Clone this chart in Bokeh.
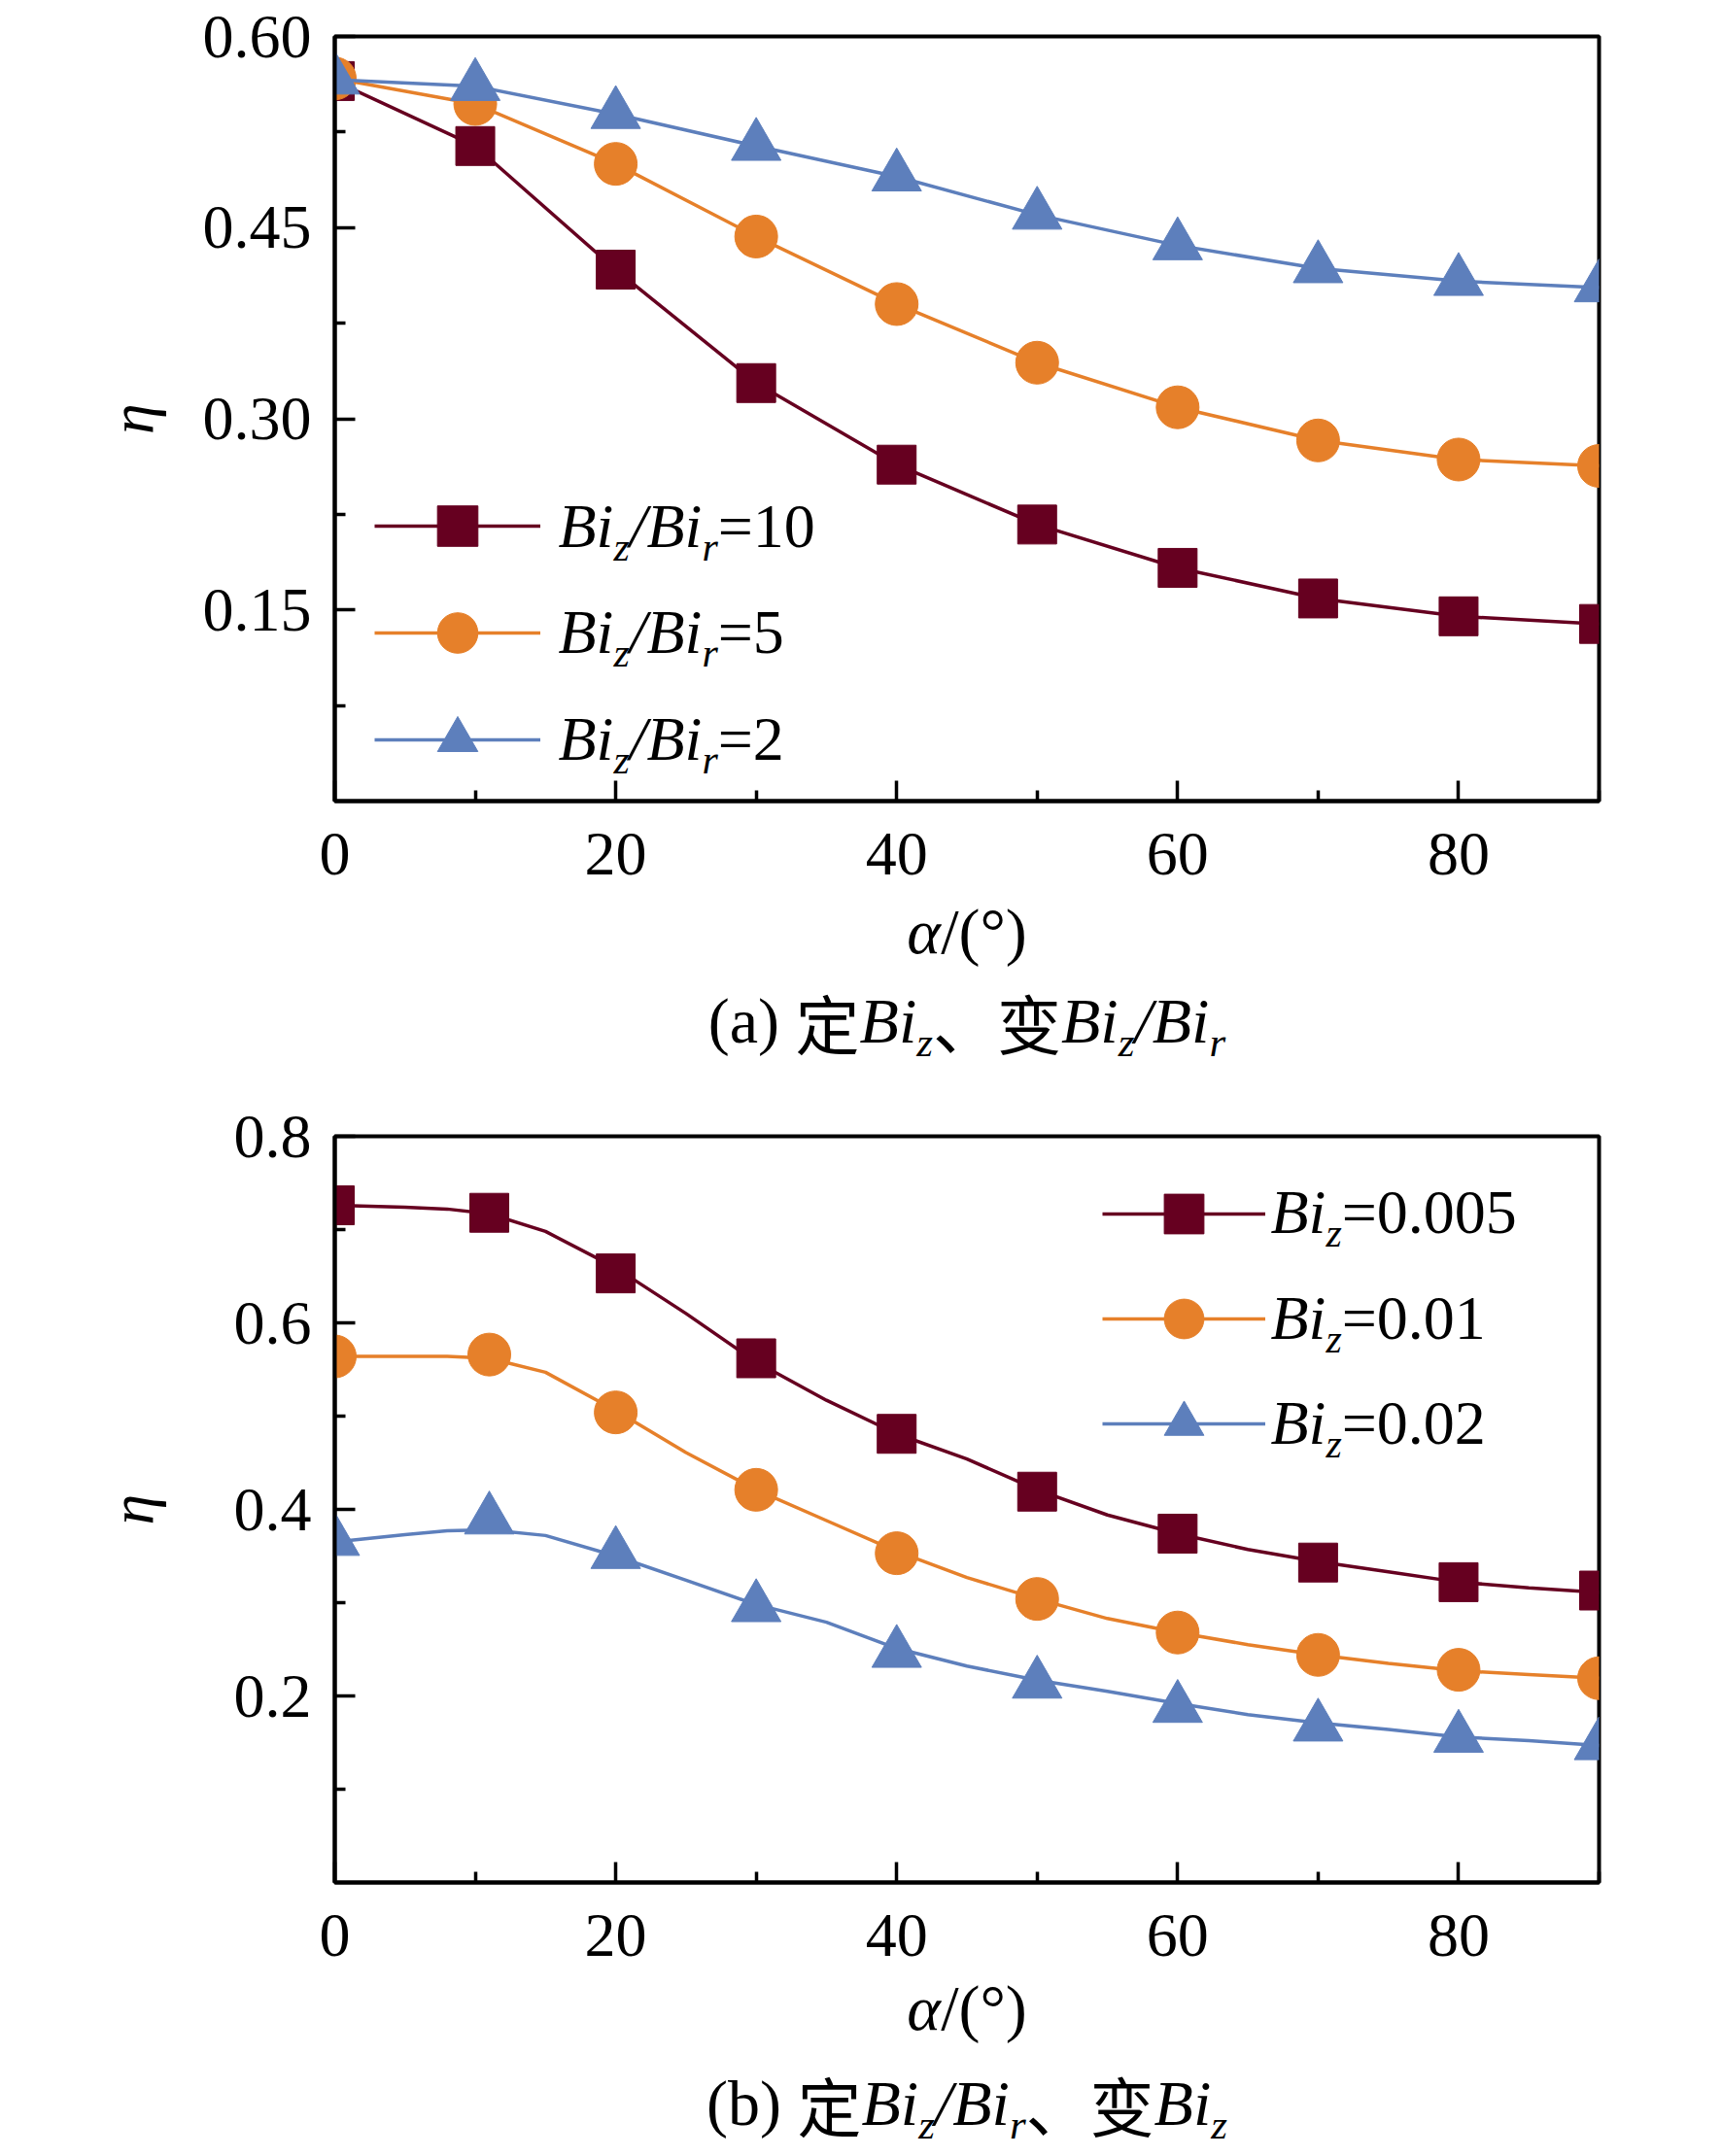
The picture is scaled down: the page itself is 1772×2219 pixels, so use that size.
import math
from bokeh.plotting import figure
from bokeh.models import (Range1d, FixedTicker, NumeralTickFormatter, Legend,
                          LegendItem, Label)
from bokeh.layouts import column
from bokeh.embed import file_html
from bokeh.resources import INLINE
from bokeh.core.properties import value

# ---------------- data ----------------
alpha_a = [0, 10, 20, 30, 40, 50, 60, 70, 80, 90]
eta_a_ratio10 = [0.565, 0.514, 0.417, 0.328, 0.264, 0.217, 0.183, 0.159, 0.145, 0.139]
eta_a_ratio5 = [0.567, 0.547, 0.500, 0.443, 0.390, 0.344, 0.309, 0.283, 0.268, 0.263]
eta_a_ratio2 = [0.566, 0.561, 0.539, 0.514, 0.490, 0.460, 0.436, 0.418, 0.408, 0.403]

alpha_b_marks = [0, 11, 20, 30, 40, 50, 60, 70, 80, 90]
eta_b_005 = [0.726, 0.718, 0.653, 0.562, 0.481, 0.419, 0.374, 0.343, 0.322, 0.313]
eta_b_01 = [0.564, 0.566, 0.504, 0.421, 0.353, 0.304, 0.268, 0.244, 0.228, 0.219]
eta_b_02 = [0.366, 0.389, 0.352, 0.295, 0.246, 0.213, 0.187, 0.167, 0.155, 0.147]

alpha_b_curve = [0, 5, 8, 11, 15, 20, 25, 30, 35, 40, 45, 50, 55, 60, 65, 70, 75, 80, 85, 90]
curve_b_005 = [0.726, 0.724, 0.722, 0.717, 0.698, 0.659, 0.610, 0.558, 0.517, 0.481,
               0.454, 0.421, 0.394, 0.374, 0.357, 0.344, 0.333, 0.322, 0.316, 0.311]
curve_b_01 = [0.564, 0.564, 0.564, 0.562, 0.547, 0.506, 0.461, 0.421, 0.388, 0.355,
              0.327, 0.304, 0.283, 0.268, 0.255, 0.244, 0.235, 0.227, 0.223, 0.219]
curve_b_02 = [0.365, 0.373, 0.377, 0.378, 0.372, 0.350, 0.324, 0.298, 0.279, 0.251,
              0.232, 0.217, 0.205, 0.192, 0.180, 0.171, 0.164, 0.156, 0.152, 0.147]

x_ticks = [0, 20, 40, 60, 80]
x_minor = [10, 30, 50, 70, 90]
y_ticks_a = [0.15, 0.30, 0.45, 0.60]
y_minor_a = [0.075, 0.225, 0.375, 0.525]
y_ticks_b = [0.2, 0.4, 0.6, 0.8]
y_minor_b = [0.1, 0.3, 0.5, 0.7]

C_RED = "#660020"
C_ORA = "#E6802A"
C_BLU = "#5D7FBC"

SERIF = "Liberation Serif"
CJK = "Noto Sans CJK SC"
FS = 64
CAP_FS = 66
SUB_DY = -21
PAGE_W = 1764
LEFT = 344
FRAME_W = 1301

# approximate advance widths (per 1000 em) for Liberation Serif (Times metrics)
W_REG = {**{d: 500 for d in "0123456789"}, ".": 250, "=": 564, "(": 333, ")": 333,
         "/": 278, "°": 400, " ": 250, "a": 444, "b": 500}
W_IT = {"B": 611, "i": 278, "z": 389, "r": 389, "/": 278, "α": 530, "η": 500}


def run_width(text, style, size, font):
    if font == CJK:
        return len(text) * size
    table = W_IT if style == "italic" else W_REG
    return sum(table.get(ch, 500) for ch in text) * size / 1000.0


def rich(p, runs, x, y, align="center"):
    widths = [run_width(t, st, sz, f) for (t, st, sz, f, dy) in runs]
    cur = x - sum(widths) / 2 if align == "center" else x
    for (t, st, sz, f, dy), w in zip(runs, widths):
        p.add_layout(Label(x=cur, y=y + dy, x_units="screen", y_units="screen", text=t,
                           text_font=f, text_font_style=st, text_font_size=f"{sz}px",
                           text_align="left", text_baseline="alphabetic",
                           text_color="black"))
        cur += w


def runs_factory(fs):
    sfs = round(fs * 0.656)
    dy = round(SUB_DY * fs / 64)
    return (lambda t: (t, "italic", fs, SERIF, 0),
            lambda t: (t, "italic", sfs, SERIF, dy),
            lambda t: (t, "normal", fs, SERIF, 0),
            lambda t: (t, "normal", fs, CJK, 0))


it, sub, rg, cj = runs_factory(FS)
cit, csub, crg, ccj = runs_factory(CAP_FS)


def make_fig(height, top, bottom, y_end, y_ticks, y_minor, fmt, eta_standoff):
    p = figure(width=PAGE_W, height=height, output_backend="svg", toolbar_location=None,
               x_range=Range1d(0, 90), y_range=Range1d(0, y_end),
               min_border_left=LEFT, min_border_right=PAGE_W - LEFT - FRAME_W,
               min_border_top=top, min_border_bottom=bottom)
    p.xgrid.visible = False
    p.ygrid.visible = False
    p.outline_line_color = "black"
    p.outline_line_width = 4
    p.outline_line_alpha = 1.0
    p.background_fill_color = "white"
    p.border_fill_color = "white"
    p.xaxis.ticker = FixedTicker(ticks=x_ticks, minor_ticks=x_minor)
    p.yaxis.ticker = FixedTicker(ticks=y_ticks, minor_ticks=y_minor)
    p.yaxis.formatter = NumeralTickFormatter(format=fmt)
    for ax in (p.xaxis[0], p.yaxis[0]):
        ax.axis_line_width = 4
        ax.axis_line_color = "black"
        ax.major_tick_in = 21
        ax.major_tick_out = 0
        ax.minor_tick_in = 11
        ax.minor_tick_out = 0
        ax.major_tick_line_width = 3.5
        ax.minor_tick_line_width = 3.5
        ax.major_tick_line_color = "black"
        ax.minor_tick_line_color = "black"
        ax.major_label_text_font = SERIF
        ax.major_label_text_font_size = f"{FS}px"
        ax.major_label_text_color = "black"
    p.xaxis[0].major_label_standoff = 33
    p.yaxis[0].major_label_standoff = 24
    p.yaxis[0].axis_label = "η"
    p.yaxis[0].axis_label_text_font = SERIF
    p.yaxis[0].axis_label_text_font_style = "italic"
    p.yaxis[0].axis_label_text_font_size = f"{FS}px"
    p.yaxis[0].axis_label_text_color = "black"
    p.yaxis[0].axis_label_standoff = eta_standoff
    return p


def text_fig(height):
    t = figure(width=PAGE_W, height=height, output_backend="svg", toolbar_location=None,
               x_range=Range1d(0, 1), y_range=Range1d(0, 1), x_axis_type=None,
               y_axis_type=None, min_border=0)
    t.outline_line_color = None
    t.xgrid.visible = False
    t.ygrid.visible = False
    t.background_fill_color = "white"
    t.border_fill_color = "white"
    return t


def add_series(p, xs_line, ys_line, xs_m, ys_m, color, marker, size):
    lr = p.line(xs_line, ys_line, line_color=color, line_width=3.5)
    sr = p.scatter(xs_m, ys_m, marker=marker, size=size, fill_color=color,
                   line_color=color, line_width=1)
    return [lr, sr]


def add_legend(p, renderer_sets, loc, gw, gh, sp):
    items = [LegendItem(label=value(" "), renderers=rs) for rs in renderer_sets]
    lg = Legend(items=items, location=loc, orientation="vertical", glyph_width=gw,
                glyph_height=gh, spacing=sp, padding=0, margin=0,
                border_line_alpha=0, background_fill_alpha=0, label_standoff=0,
                label_width=1, label_height=1, label_text_font_size="4px")
    p.add_layout(lg)


# text figures share the plots' frame alignment: centre relative to the frame
CENTER_X = FRAME_W / 2

# ---------------- figure (a) ----------------
pa = make_fig(912, 37, 88, 0.6, y_ticks_a, y_minor_a, "0.00", 35)
ra = add_series(pa, alpha_a, eta_a_ratio10, alpha_a, eta_a_ratio10, C_RED, "square", 40)
rb = add_series(pa, alpha_a, eta_a_ratio5, alpha_a, eta_a_ratio5, C_ORA, "circle", 44)
rc = add_series(pa, alpha_a, eta_a_ratio2, alpha_a, eta_a_ratio2, C_BLU, "triangle", 51)
add_legend(pa, [ra, rb, rc], (41, 11), 171, 104, 6)

for yc, num in ((283, "=10"), (174, "=5"), (64, "=2")):
    rich(pa, [it("Bi"), sub("z"), it("/"), it("Bi"), sub("r"), rg(num)], 230, yc, align="left")

ca = text_fig(198)
rich(ca, [cit("α"), crg("/(°)")], CENTER_X, 152)
rich(ca, [crg("(a) "), ccj("定"), cit("Bi"), csub("z"), ccj("、"), ccj("变"), cit("Bi"),
          csub("z"), cit("/"), cit("Bi"), csub("r")], CENTER_X, 60)

# ---------------- figure (b) ----------------
pb = make_fig(915, 59, 88, 0.8, y_ticks_b, y_minor_b, "0.0", 67)
sa = add_series(pb, alpha_b_curve, curve_b_005, alpha_b_marks, eta_b_005, C_RED, "square", 40)
sb = add_series(pb, alpha_b_curve, curve_b_01, alpha_b_marks, eta_b_01, C_ORA, "circle", 44)
sc = add_series(pb, alpha_b_curve, curve_b_02, alpha_b_marks, eta_b_02, C_BLU, "triangle", 51)
add_legend(pb, [sa, sb, sc], (790, 421), 168, 102, 6)

for yc, num in ((690, "=0.005"), (581, "=0.01"), (473, "=0.02")):
    rich(pb, [it("Bi"), sub("z"), rg(num)], 963, yc, align="left")

cb = text_fig(190)
rich(cb, [cit("α"), crg("/(°)")], CENTER_X, 149)
rich(cb, [crg("(b) "), ccj("定"), cit("Bi"), csub("z"), cit("/"), cit("Bi"), csub("r"),
          ccj("、"), ccj("变"), cit("Bi"), csub("z")], CENTER_X, 51)

layout = column(pa, ca, pb, cb, spacing=0)
open("out.html", "w").write(file_html(layout, INLINE))
